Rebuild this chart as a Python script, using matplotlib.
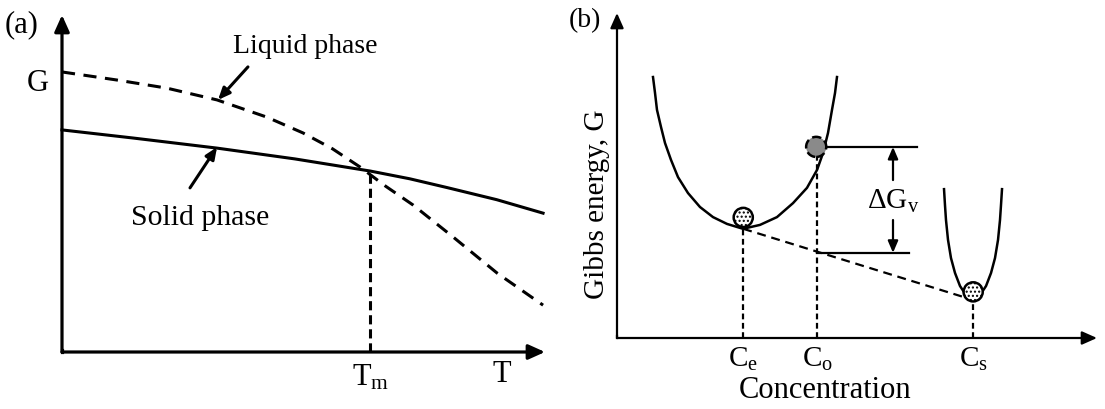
import matplotlib
matplotlib.use("Agg")
import matplotlib.pyplot as plt

plt.rcParams["font.family"] = ["Liberation Serif", "DejaVu Serif"]
plt.rcParams["mathtext.fontset"] = "custom"
plt.rcParams["mathtext.rm"] = "Liberation Serif"
plt.rcParams["mathtext.it"] = "Liberation Serif:italic"

# panel (a): free energy vs temperature (arbitrary units, 0..100)
liquid_T = [0, 11.4, 21.7, 32.1, 42.4, 49.9, 56.0, 61.7, 67.0, 72.7, 81.0, 90.1, 99.6]
liquid_G = [83.1, 80.7, 78.3, 74.8, 69.7, 65.0, 60.3, 54.9, 49.2, 43.6, 34.1, 23.4, 13.9]
solid_T = [0, 14.7, 32.1, 48.2, 63.8, 72.0, 79.7, 90.0, 99.6]
solid_G = [65.9, 63.5, 60.5, 57.3, 53.7, 51.4, 48.8, 45.2, 41.2]
T_melt = 63.8
G_melt = 53.7

# panel (b): free energy vs concentration (arbitrary units, 0..100)
alpha_C = [7.50, 7.92, 8.33, 9.17, 10.0, 11.25, 12.71, 14.79, 17.29, 20.0, 22.92, 26.25,
           29.79, 33.33, 36.67, 39.58, 41.67, 42.92, 43.96, 44.79, 45.42, 45.83]
alpha_G = [80.3, 75.4, 70.2, 64.9, 60.0, 54.8, 49.5, 44.6, 40.3, 37.2, 35.1, 33.6,
           34.8, 37.2, 41.5, 46.2, 51.7, 56.9, 63.1, 70.2, 75.4, 80.3]
beta_C = [68.13, 68.33, 68.54, 68.96, 69.58, 70.42, 71.46, 72.71, 74.17,
          75.63, 76.88, 77.92, 78.75, 79.38, 79.79, 80.0, 80.21]
beta_G = [45.8, 40.9, 36.3, 30.2, 24.6, 20.0, 16.0, 13.2, 11.7,
          13.2, 16.0, 20.0, 24.6, 30.2, 36.3, 40.9, 45.8]
C_e, G_e = 26.3, 33.6
C_o, G_o = 41.7, 58.8
C_s, G_s = 74.2, 11.7
G_tangent_at_Co = 26.2
conc_labels = [r"$\mathrm{C_e}$", r"$\mathrm{C_o}$", r"$\mathrm{C_s}$"]

FIG_W, FIG_H = 1105, 409


def px_axes(fig, x0, x1, y_top, y_bot):
    ax = fig.add_axes([x0 / FIG_W, 1 - y_bot / FIG_H, (x1 - x0) / FIG_W, (y_bot - y_top) / FIG_H])
    ax.set_xlim(0, 100)
    ax.set_ylim(0, 100)
    ax.axis("off")
    return ax


def axis_arrows(ax, lw, head):
    style = dict(arrowstyle=f"-|>,head_length={head[0]},head_width={head[1]}", color="black", lw=lw,
                 shrinkA=0, shrinkB=0)
    ax.annotate("", xy=(100, 0), xytext=(0, 0), arrowprops=style, annotation_clip=False)
    ax.annotate("", xy=(0, 100), xytext=(0, 0), arrowprops=style, annotation_clip=False)
    ax.plot([0, 0], [0, 0.5], color="black", lw=lw, solid_capstyle="projecting", clip_on=False)


fig = plt.figure(figsize=(FIG_W / 100, FIG_H / 100), dpi=100)
fs = 21

# ---- (a)
ax = px_axes(fig, 62, 545, 15, 352)
axis_arrows(ax, 2.3, (1.0, 0.45))
ax.plot(liquid_T, liquid_G, color="black", lw=2.2, dashes=(4.3, 2.8), clip_on=False)
ax.plot(solid_T, solid_G, color="black", lw=2.2, clip_on=False, solid_joinstyle="round")
ax.plot([T_melt, T_melt], [0, G_melt], color="black", lw=2.2, dashes=(3.0, 1.6), clip_on=False)
arrow = dict(arrowstyle="-|>,head_length=0.7,head_width=0.3", color="black", lw=2.2, shrinkA=0, shrinkB=0)
ax.annotate("", xy=(32.3, 74.8), xytext=(38.5, 84.6), arrowprops=arrow, annotation_clip=False)
ax.text(50.3, 90.6, "Liquid phase", fontsize=20, ha="center", va="center")
ax.annotate("", xy=(32.1, 60.8), xytext=(26.5, 48.7), arrowprops=arrow, annotation_clip=False)
ax.text(28.6, 39.8, "Solid phase", fontsize=21.5, ha="center", va="center")
ax.text(-5.0, 79.8, "G", fontsize=22, ha="center", va="center")
ax.text(-8.3, 97.0, "(a)", fontsize=22, ha="center", va="center")
ax.text(T_melt, -7.7, r"$\mathrm{T_m}$", fontsize=22, ha="center", va="center")
ax.text(91.0, -6.8, "T", fontsize=22, ha="center", va="center")

# ---- (b)
bx = px_axes(fig, 617, 1097, 13, 338)
axis_arrows(bx, 1.6, (0.9, 0.4))
bx.plot(alpha_C, alpha_G, color="black", lw=1.8, clip_on=False, solid_joinstyle="round")
bx.plot(beta_C, beta_G, color="black", lw=1.8, clip_on=False, solid_joinstyle="round")
bx.plot([C_e, C_s], [G_e, G_s], color="black", lw=1.6, dashes=(4.0, 2.6))
for c, g in [(C_e, G_e), (C_o, G_o - 3), (C_s, G_s)]:
    bx.plot([c, c], [0, g], color="black", lw=1.6, dashes=(2.6, 1.6))
for c, lab in zip([C_e, C_o, C_s], conc_labels):
    bx.text(c, -6.5, lab, fontsize=fs, ha="center", va="center")
bx.scatter([C_e, C_s], [G_e + 3.5, G_s + 2.5], s=190, facecolor="white", edgecolor="black",
           linewidths=1.8, hatch="....", zorder=4)
bx.scatter([C_o - 0.2], [G_o], s=210, facecolor="#8a8a8a", edgecolor="black", linewidths=1.8,
           linestyles="--", zorder=4)
bx.plot([43.3, 62.5], [G_o, G_o], color="black", lw=1.6)
bx.plot([C_o, 60.8], [G_tangent_at_Co, G_tangent_at_Co], color="black", lw=1.6)
varrow = dict(arrowstyle="-|>,head_length=0.7,head_width=0.3", color="black", lw=1.6, shrinkA=0, shrinkB=0)
bx.annotate("", xy=(57.5, G_o), xytext=(57.5, 48.6), arrowprops=varrow)
bx.annotate("", xy=(57.5, G_tangent_at_Co), xytext=(57.5, 36.3), arrowprops=varrow)
bx.text(57.5, 42.0, r"$\mathrm{ΔG_v}$", fontsize=fs, ha="center", va="center")
bx.text(-4.2, 41.2, "Gibbs energy, G", fontsize=fs, rotation=90, ha="center", va="center")
bx.text(-6.7, 97.8, "(b)", fontsize=20, ha="center", va="center")
bx.text(43.3, -16.0, "Concentration", fontsize=22, ha="center", va="center")

fig.savefig("out.png", dpi=100)
